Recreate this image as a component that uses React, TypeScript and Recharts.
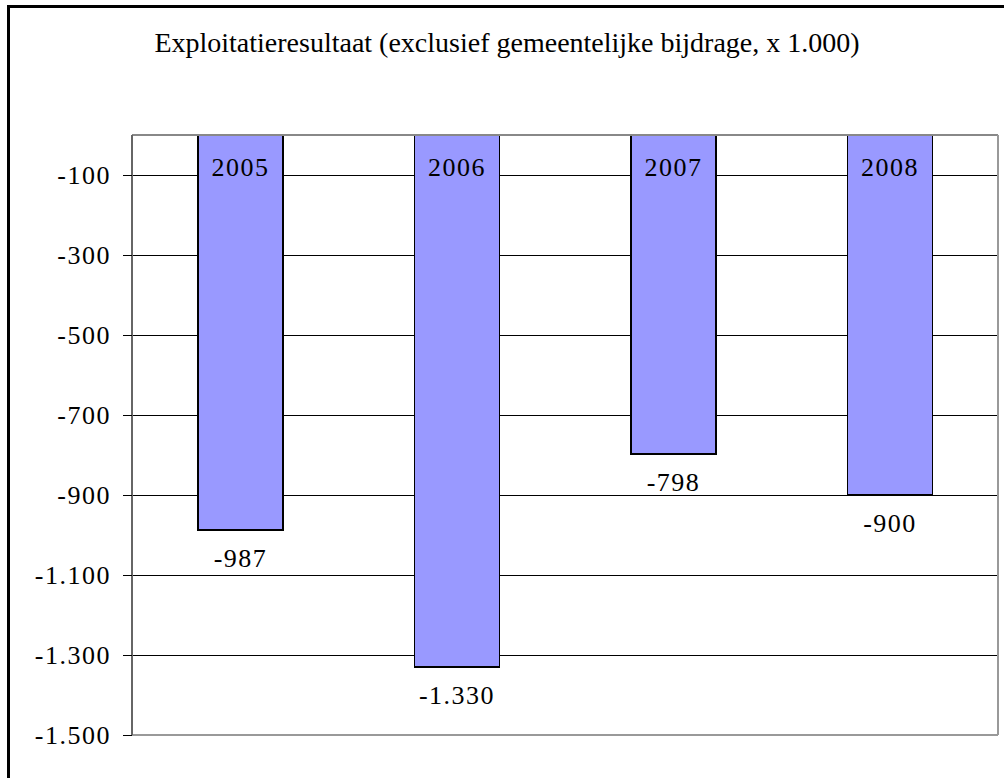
import { Bar, BarChart, CartesianGrid, LabelList, XAxis, YAxis } from 'recharts'

const years = ['2005', '2006', '2007', '2008']
const results = [-987, -1330, -798, -900]
const yTicks = [-1500, -1300, -1100, -900, -700, -500, -300, -100]
const separators = [1, 2, 3]

const data = years.map((year, i) => ({ year, value: results[i] }))

const numFont = 'Liberation Serif, serif'

// Dutch thousands separator: -1330 -> -1.330
const fmt = (v: number) => {
    const s = Math.abs(v).toString().replace(/\B(?=(\d{3})+(?!\d))/g, '.')
    return (v < 0 ? '-' : '') + s
}

const YearLabel = (props: any) => {
    const { x, y, width, height, value } = props
    const top = Math.min(y, y + height)
    return (
        <text
            x={x + width / 2}
            y={top + 41}
            textAnchor="middle"
            fontFamily={numFont}
            fontSize={26}
            letterSpacing={1.5}
            fill="#000"
        >
            {value}
        </text>
    )
}

const ValueLabel = (props: any) => {
    const { x, y, width, height, value } = props
    const bottom = Math.max(y, y + height)
    return (
        <text
            x={x + width / 2}
            y={bottom + 37}
            textAnchor="middle"
            fontFamily={numFont}
            fontSize={26}
            letterSpacing={1.5}
            fill="#000"
        >
            {fmt(value)}
        </text>
    )
}

export default function App() {
    return (
        <div
            style={{
                position: 'absolute',
                left: 0,
                top: 0,
                width: 1004,
                height: 778,
                overflow: 'hidden',
                background: '#fff',
                shapeRendering: 'crispEdges',
            }}
        >
            <div
                style={{
                    position: 'absolute',
                    left: 7,
                    top: 5,
                    width: 1100,
                    height: 900,
                    border: '3px solid #000',
                }}
            />
            <div
                style={{
                    position: 'absolute',
                    left: 0,
                    top: 27,
                    width: 1014,
                    textAlign: 'center',
                    fontFamily: '"Liberation Serif", serif',
                    fontSize: 28,
                    color: '#000',
                }}
            >
                Exploitatieresultaat (exclusief gemeentelijke bijdrage, x 1.000)
            </div>
            <div style={{ position: 'absolute', left: 0, top: 0 }}>
                <BarChart
                    width={1004}
                    height={778}
                    data={data}
                    margin={{ top: 134, right: 0, bottom: 0, left: 0 }}
                >
                    <CartesianGrid horizontal vertical={false} stroke="#000" strokeWidth={1} />
                    <XAxis
                        dataKey="year"
                        orientation="bottom"
                        height={43}
                        tick={false}
                        tickLine={false}
                        axisLine={{ stroke: '#999', strokeWidth: 2 }}
                    />
                    <XAxis
                        xAxisId="sep"
                        type="number"
                        orientation="top"
                        domain={[0, 4]}
                        ticks={separators}
                        allowDataOverflow
                        height={1}
                        tick={false}
                        tickSize={6}
                        tickLine={{ stroke: '#777' }}
                        axisLine={{ stroke: '#888', strokeWidth: 1.5 }}
                    />
                    <YAxis
                        type="number"
                        domain={[-1500, 0]}
                        ticks={yTicks}
                        allowDataOverflow
                        width={132}
                        tickSize={9}
                        tickMargin={12}
                        tickFormatter={fmt}
                        tick={{ fill: '#000', fontFamily: numFont, fontSize: 26, letterSpacing: 1.5 }}
                        tickLine={{ stroke: '#000' }}
                        axisLine={{ stroke: '#666', strokeWidth: 1.5 }}
                    />
                    <YAxis
                        yAxisId="right"
                        orientation="right"
                        type="number"
                        domain={[-1500, 0]}
                        allowDataOverflow
                        width={6}
                        tick={false}
                        tickLine={false}
                        axisLine={{ stroke: '#999', strokeWidth: 2 }}
                    />
                    <Bar
                        dataKey="value"
                        fill="#9999FF"
                        stroke="#000"
                        strokeWidth={1.5}
                        barSize={85}
                        isAnimationActive={false}
                    >
                        <LabelList dataKey="year" content={YearLabel} />
                        <LabelList dataKey="value" content={ValueLabel} />
                    </Bar>
                </BarChart>
            </div>
        </div>
    )
}
